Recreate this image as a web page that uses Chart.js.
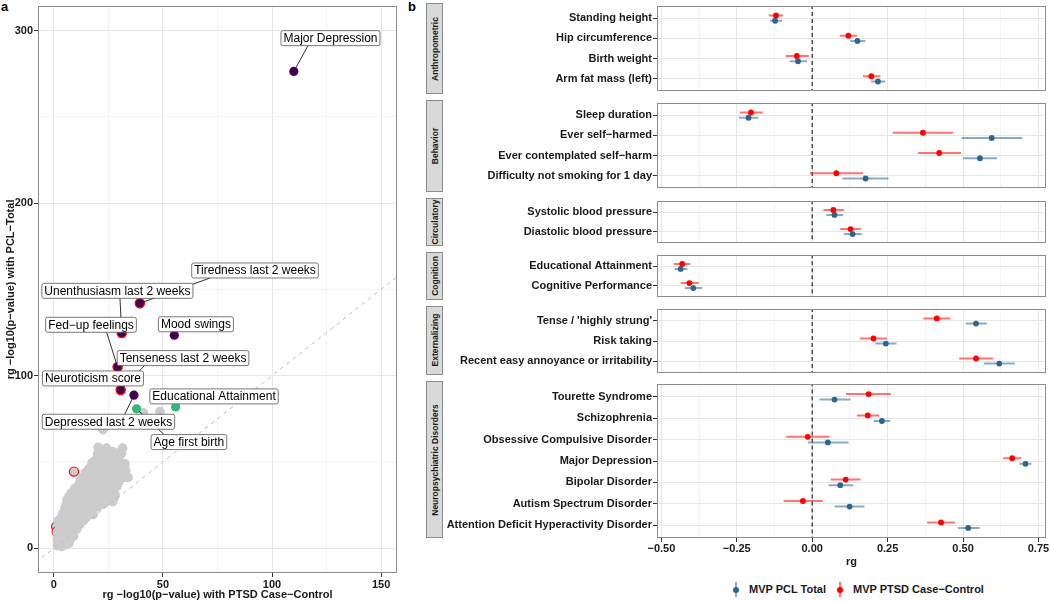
<!DOCTYPE html>
<html>
<head>
<meta charset="utf-8">
<script src="https://cdn.jsdelivr.net/npm/chart.js@4/dist/chart.umd.min.js"></script>
<style>
  body { margin: 0; background: #fff; font-family: "Liberation Sans", Arial, sans-serif; }
  #wrap { position: relative; width: 1050px; height: 602px; overflow: hidden; }
  canvas { position: absolute; }
  .tag { position: absolute; top: -1px; font-size: 13px; font-weight: bold; color: #000; }
  .strip { position: absolute; left: 426px; width: 15px; background: #d9d9d9; border: 1px solid #8c8c8c; }
  .strip span { position: absolute; left: 50%; top: 50%; transform: translate(-50%, -50%) rotate(-90deg);
                white-space: nowrap; font-size: 8.5px; font-weight: bold; color: #1a1a1a; }
  .key { position: absolute; top: 582px; width: 12px; height: 15px; }
  .key i { position: absolute; left: 5px; top: 0; width: 1.6px; height: 15px; }
  .key b { position: absolute; left: 2.8px; top: 4.7px; width: 6px; height: 6px; border-radius: 50%; }
  .keytxt { position: absolute; top: 582px; font-size: 11px; font-weight: bold; line-height: 15px; color: #1a1a1a; }
</style>
</head>
<body>
<div id="wrap">
  <div class="tag" style="left:1px">a</div>
  <div class="tag" style="left:408px">b</div>
  <canvas id="scatter" width="410" height="602" style="left:0;top:0"></canvas>
</div>
<script>
// ---------- panel a: labelled traits ----------
const namedTraits = ['Major Depression', 'Tiredness last 2 weeks', 'Unenthusiasm last 2 weeks', 'Mood swings',
  'Fed\u2212up feelings', 'Tenseness last 2 weeks', 'Neuroticism score', 'Depressed last 2 weeks',
  'Age first birth', 'Educational Attainment'];
const namedCC  = [110, 39.4, 31.1, 55.2, 29.2, 30.6, 23.4, 36.7, 37.9, 55.8];
const namedPCL = [276.4, 142, 124.8, 123.5, 105, 91.7, 98, 88.7, 80.8, 81.9];
const namedGroup = ['psych', 'psych', 'psych', 'psych', 'psych', 'psych', 'psych', 'psych', 'other', 'other'];
const namedSig = [false, true, true, false, true, true, true, false, false, false];
// where each label box sits (data units)
const labelAtCC  = [126.8, 92.2, 29.1, 65.1, 17, 59.2, 17.9, 25, 61.9, 73.4];
const labelAtPCL = [295.7, 161, 149.2, 129.8, 129.5, 110.2, 98.4, 73.3, 61.5, 88];

// unlabelled traits
const otherCC = [1.5, 3.5, 5.5, 7, 1.5, 3.5, 5.5, 8, 1.5, 3.5, 6, 9, 2.5, 4, 7, 10, 12,
  3.5, 6, 9, 12, 15, 5, 8, 11, 14, 17, 20, 6, 9, 12, 15, 18, 21, 24, 27,
  8, 11, 14, 17, 20, 23, 26, 28, 11, 14, 17, 20, 23, 26, 29,
  13, 16, 19, 22, 25, 28, 32, 16, 19, 22, 25, 28, 31, 19, 22, 25, 28, 30,
  21, 24, 27, 31.5, 20.3, 22.5, 41, 48.6, 34, 32.6,
  2.5, 4.5, 6.5, 2.5, 4.5, 7, 9, 2.5, 5, 8, 10.5, 2, 5, 7.5, 10.5, 13.5,
  4, 6.5, 9.5, 12.5, 15.5, 18, 5.5, 7.5, 10.5, 13.5, 16.5, 19.5, 22.5,
  7, 10, 13, 16, 19, 22, 25, 27.5, 9.5, 12.5, 15.5, 18.5, 21.5, 24.5, 27.5,
  12, 15, 18, 21, 24, 27, 30, 14.5, 17.5, 20.5, 23.5, 26.5, 29.5, 33,
  17.5, 20.5, 23.5, 26.5, 29.5, 20, 23, 26, 29, 31];
const otherPCL = [1.5, 1, 2, 3, 5, 5, 6, 6, 9, 9.5, 10, 10, 13, 14, 13, 13, 14,
  18, 17, 17, 18, 18, 23, 22, 22, 21, 22, 24, 28, 27, 27, 26, 27, 28, 27, 27,
  32, 32, 31, 32, 32, 31, 32, 31, 36, 37, 37, 37, 36, 37, 36,
  41, 42, 42, 41, 42, 42, 41, 46, 47, 46, 47, 47, 48, 51, 52, 52, 52, 53,
  56, 58, 56, 58, 58.5, 68.7, 78.5, 79.2, 41, 48.9,
  3.5, 3.5, 4, 7.5, 7.5, 8, 7, 11, 11, 11, 11, 16, 15.5, 15.5, 15.5, 16,
  20, 20, 19.5, 20, 20, 19.5, 25, 25, 24.5, 24, 24.5, 25.5, 25.5,
  30, 29.5, 29, 29.5, 29.5, 29.5, 29.5, 29, 34.5, 34, 34.5, 34.5, 34, 34.5, 34,
  39, 39.5, 39.5, 39, 39.5, 39.5, 39, 44, 44.5, 44, 44.5, 44.5, 44.5, 45,
  49.5, 49.5, 49.5, 49.5, 50, 54.5, 55, 54, 55, 55];
const ringTopCC = [9.2], ringTopPCL = [44.4];
const ringLowCC = [1.0, 1.3], ringLowPCL = [12.5, 9.5];

// ---------- panel b: genetic correlations ----------
const facetNames = ['Anthropometric', 'Behavior', 'Circulatory', 'Cognition', 'Externalizing', 'Neuropsychiatric Disorders'];
const traits = ['Standing height', 'Hip circumference', 'Birth weight', 'Arm fat mass (left)',
  'Sleep duration', 'Ever self\u2212harmed', 'Ever contemplated self\u2212harm', 'Difficulty not smoking for 1 day',
  'Systolic blood pressure', 'Diastolic blood pressure',
  'Educational Attainment', 'Cognitive Performance',
  "Tense / 'highly strung'", 'Risk taking', 'Recent easy annoyance or irritability',
  'Tourette Syndrome', 'Schizophrenia', 'Obsessive Compulsive Disorder', 'Major Depression',
  'Bipolar Disorder', 'Autism Spectrum Disorder', 'Attention Deficit Hyperactivity Disorder'];
const traitFacet = [0, 0, 0, 0, 1, 1, 1, 1, 2, 2, 3, 3, 4, 4, 4, 5, 5, 5, 5, 5, 5, 5];
const pclRg  = [-0.123, 0.150, -0.047, 0.218, -0.211, 0.595, 0.556, 0.177, 0.074, 0.134, -0.436, -0.394,
  0.543, 0.244, 0.620, 0.074, 0.231, 0.052, 0.707, 0.093, 0.124, 0.517];
const pclLo  = [-0.140, 0.126, -0.075, 0.195, -0.243, 0.495, 0.500, 0.100, 0.047, 0.105, -0.456, -0.422,
  0.509, 0.209, 0.569, 0.024, 0.204, -0.014, 0.687, 0.054, 0.074, 0.483];
const pclHi  = [-0.100, 0.176, -0.017, 0.242, -0.179, 0.696, 0.613, 0.253, 0.103, 0.164, -0.414, -0.365,
  0.579, 0.280, 0.672, 0.127, 0.259, 0.120, 0.727, 0.136, 0.173, 0.555];
const ptsdRg = [-0.120, 0.120, -0.051, 0.196, -0.203, 0.367, 0.421, 0.080, 0.070, 0.127, -0.431, -0.407,
  0.413, 0.203, 0.543, 0.187, 0.184, -0.015, 0.663, 0.111, -0.031, 0.427];
const ptsdLo = [-0.144, 0.091, -0.088, 0.168, -0.240, 0.267, 0.351, -0.008, 0.037, 0.093, -0.459, -0.436,
  0.369, 0.158, 0.487, 0.112, 0.148, -0.086, 0.633, 0.061, -0.095, 0.381];
const ptsdHi = [-0.096, 0.149, -0.011, 0.226, -0.164, 0.467, 0.493, 0.168, 0.105, 0.161, -0.404, -0.376,
  0.458, 0.248, 0.600, 0.261, 0.222, 0.057, 0.693, 0.160, 0.035, 0.473];
const rgTicks = [-0.5, -0.375, -0.25, -0.125, 0, 0.125, 0.25, 0.375, 0.5, 0.625, 0.75];

const FONT = '"Liberation Sans", Arial, sans-serif';
Chart.defaults.font.family = FONT;
Chart.defaults.color = '#1a1a1a';
const bold11 = { family: FONT, size: 11, weight: 'bold' };
const PURPLE = '#440154', GREEN = '#35b779', GREY = '#cccccc';
const RED = '#ff0000', BLUE = '#2c6690';

const crisp = v => Math.round(v) + 0.5;
const panelBox = {
  id: 'panelBox',
  afterDatasetsDraw(chart) {
    const a = chart.chartArea, ctx = chart.ctx;
    ctx.save();
    ctx.strokeStyle = '#8c8c8c';
    ctx.lineWidth = 1;
    const l = crisp(a.left), t = crisp(a.top), r = crisp(a.right) - 1, b = crisp(a.bottom) - 1;
    ctx.strokeRect(l, t, r - l, b - t);
    ctx.restore();
  }
};

// ggrepel-like labels: segments first, then the boxes on top
const repelLabels = {
  id: 'repelLabels',
  afterDatasetsDraw(chart) {
    const { ctx, scales: { x, y } } = chart;
    ctx.save();
    ctx.font = '12px ' + FONT;
    const boxes = namedTraits.map((t, i) => {
      const cx = x.getPixelForValue(labelAtCC[i]), cy = y.getPixelForValue(labelAtPCL[i]);
      const w = ctx.measureText(t).width + 5, h = 15;
      return { t, cx, cy, w, h, l: cx - w / 2, r: cx + w / 2, tp: cy - h / 2, b: cy + h / 2,
               px: x.getPixelForValue(namedCC[i]), py: y.getPixelForValue(namedPCL[i]) };
    });
    ctx.strokeStyle = '#1a1a1a';
    ctx.lineWidth = 0.9;
    boxes.forEach(b => {
      const nx = Math.min(Math.max(b.px, b.l), b.r), ny = Math.min(Math.max(b.py, b.tp), b.b);
      if (Math.hypot(b.px - nx, b.py - ny) < 7) return;
      const dx = b.px - b.cx, dy = b.py - b.cy;
      const k = Math.min((b.w / 2) / Math.abs(dx || 1e-9), (b.h / 2) / Math.abs(dy || 1e-9));
      const sx = (nx + b.cx + dx * k) / 2, sy = (ny + b.cy + dy * k) / 2;
      const len = Math.hypot(b.px - sx, b.py - sy);
      const ex = b.px - (b.px - sx) / len * 3.5, ey = b.py - (b.py - sy) / len * 3.5;
      ctx.beginPath(); ctx.moveTo(sx, sy); ctx.lineTo(ex, ey); ctx.stroke();
    });
    boxes.forEach(b => {
      ctx.beginPath();
      if (ctx.roundRect) ctx.roundRect(b.l, b.tp, b.w, b.h, 2); else ctx.rect(b.l, b.tp, b.w, b.h);
      ctx.fillStyle = '#fff'; ctx.fill();
      ctx.strokeStyle = '#555'; ctx.lineWidth = 0.8; ctx.stroke();
      ctx.fillStyle = '#000'; ctx.textAlign = 'center'; ctx.textBaseline = 'middle';
      ctx.fillText(b.t, b.cx, b.cy + 0.5);
    });
    ctx.restore();
  }
};

const zip = (xs, ys) => xs.map((v, i) => ({ x: v, y: ys[i] }));
const gridScript = (majorStep) => ({
  color: c => (c.tick && c.tick.value % majorStep === 0) ? '#e6e6e6' : '#f3f3f3',
  tickColor: c => (c.tick && c.tick.value % majorStep === 0) ? '#333' : 'rgba(0,0,0,0)',
  tickLength: 4,
  lineWidth: 1
});

new Chart(document.getElementById('scatter'), {
  type: 'scatter',
  data: {
    datasets: [
      { data: zip(namedCC, namedPCL), pointRadius: 4.6,
        pointBackgroundColor: namedGroup.map(g => g === 'psych' ? PURPLE : GREEN),
        pointBorderColor: namedSig.map(s => s ? RED : 'rgba(0,0,0,0)'),
        pointBorderWidth: namedSig.map(s => s ? 1.3 : 0) },
      { data: [{ x: -20, y: -20 }, { x: 170, y: 170 }], showLine: true, pointRadius: 0,
        borderColor: '#bdbdbd', borderWidth: 1, borderDash: [4, 4] },
      { data: zip(ringTopCC, ringTopPCL), pointRadius: 4.6, pointBackgroundColor: GREY,
        pointBorderColor: RED, pointBorderWidth: 1.2 },
      { data: zip(otherCC, otherPCL), pointRadius: 4.8, pointBackgroundColor: GREY, pointBorderWidth: 0 },
      { data: zip(ringLowCC, ringLowPCL), pointRadius: 4.6, pointBackgroundColor: GREY,
        pointBorderColor: RED, pointBorderWidth: 1.2 }
    ]
  },
  options: {
    responsive: false, animation: false, events: [],
    layout: { padding: { left: 0, top: 3, right: 13, bottom: 0 } },
    plugins: { legend: { display: false }, tooltip: { enabled: false } },
    scales: {
      x: {
        type: 'linear', min: -7.3, max: 157.3,
        afterBuildTicks: s => { s.ticks = [0, 25, 50, 75, 100, 125, 150].map(v => ({ value: v })); },
        afterFit: s => { s.height = 29; s.paddingLeft = 0; s.paddingRight = 0; },
        ticks: { callback: v => v % 50 === 0 ? String(v) : '', font: bold11, padding: 1, maxRotation: 0, autoSkip: false },
        grid: gridScript(50),
        border: { display: false },
        title: { display: true, text: 'rg \u2212log10(p\u2212value) with PTSD Case\u2212Control', font: bold11, padding: 0 }
      },
      y: {
        type: 'linear', min: -14.4, max: 314.4,
        afterBuildTicks: s => { s.ticks = [0, 50, 100, 150, 200, 250, 300].map(v => ({ value: v })); },
        afterFit: s => { s.width = 38; s.paddingTop = 0; s.paddingBottom = 0; },
        ticks: { callback: v => v % 100 === 0 ? String(v) : '', font: bold11, padding: 1, autoSkip: false },
        grid: gridScript(100),
        border: { display: false },
        title: { display: true, text: 'rg \u2212log10(p\u2212value) with PCL\u2212Total', font: bold11, padding: { top: 4, bottom: 0 } }
      }
    }
  },
  plugins: [panelBox, repelLabels]
});

// ---------- panel b: one chart per facet ----------
const wrap = document.getElementById('wrap');
const unit = 21.77, gap = 6, dodge = 0.13;
const fmtRg = v => (v < 0 ? '\u2212' : '') + Math.abs(v).toFixed(2);
const isMajorRg = v => Math.abs(v * 4 - Math.round(v * 4)) < 1e-9;
let panelTop = 3;

facetNames.forEach((fname, f) => {
  const idx = traits.map((t, i) => i).filter(i => traitFacet[i] === f);
  const names = idx.map(i => traits[i]);
  const n = names.length;
  const h = (n - 1 + 1.2) * unit;
  const last = f === facetNames.length - 1;

  const strip = document.createElement('div');
  strip.className = 'strip';
  strip.style.top = panelTop + 'px';
  strip.style.height = (h - 2) + 'px';
  strip.innerHTML = '<span>' + fname + '</span>';
  wrap.appendChild(strip);

  const cv = document.createElement('canvas');
  cv.width = 606;
  cv.height = Math.round(h + 2 + (last ? 30 : 0));
  cv.style.left = '444px';
  cv.style.top = (panelTop - 1) + 'px';
  wrap.appendChild(cv);

  const ci = (lo, hi, off) => idx.flatMap((i, k) => [{ x: lo[i], y: k + off }, { x: hi[i], y: k + off }, { x: NaN, y: NaN }]);
  new Chart(cv, {
    type: 'scatter',
    data: {
      datasets: [
        { data: idx.map((i, k) => ({ x: ptsdRg[i], y: k - dodge })), pointRadius: 2.9, pointBackgroundColor: RED, pointBorderWidth: 0 },
        { data: idx.map((i, k) => ({ x: pclRg[i], y: k + dodge })), pointRadius: 2.9, pointBackgroundColor: BLUE, pointBorderWidth: 0 },
        { data: ci(ptsdLo, ptsdHi, -dodge), showLine: true, pointRadius: 0, borderColor: 'rgba(255,0,0,0.55)', borderWidth: 2 },
        { data: ci(pclLo, pclHi, dodge), showLine: true, pointRadius: 0, borderColor: 'rgba(44,102,144,0.55)', borderWidth: 2 },
        { data: [{ x: 0, y: -1 }, { x: 0, y: n }], showLine: true, pointRadius: 0, borderColor: '#444', borderWidth: 1.4, borderDash: [4, 3] }
      ]
    },
    options: {
      responsive: false, animation: false, events: [],
      layout: { padding: { left: 0, top: 1, right: 2, bottom: last ? 0 : 1 } },
      plugins: { legend: { display: false }, tooltip: { enabled: false } },
      scales: {
        x: {
          type: 'linear', min: -0.5145, max: 0.775,
          afterBuildTicks: s => { s.ticks = rgTicks.map(v => ({ value: v })); },
          afterFit: s => { s.height = last ? 31 : 0; s.paddingLeft = 0; s.paddingRight = 0; },
          ticks: { display: last, callback: v => isMajorRg(v) ? fmtRg(v) : '', font: bold11, padding: 0, maxRotation: 0, autoSkip: false },
          grid: {
            color: c => (c.tick && isMajorRg(c.tick.value)) ? '#e6e6e6' : '#f3f3f3',
            tickColor: c => (c.tick && isMajorRg(c.tick.value)) ? '#333' : 'rgba(0,0,0,0)',
            drawTicks: last, tickLength: 4
          },
          border: { display: false },
          title: { display: last, text: 'rg', font: bold11, padding: 0 }
        },
        y: {
          type: 'linear', reverse: true, min: -0.6, max: n - 0.4,
          afterBuildTicks: s => { s.ticks = names.map((t, k) => ({ value: k })); },
          afterFit: s => { s.width = 213; s.paddingTop = 0; s.paddingBottom = 0; },
          ticks: { callback: v => names[v], font: bold11, padding: 1, autoSkip: false },
          grid: { color: '#e6e6e6', tickColor: '#333', tickLength: 4 },
          border: { display: false }
        }
      }
    },
    plugins: [panelBox]
  });
  panelTop += h + gap;
});

// legend of panel b
[[736, BLUE, 'rgba(44,102,144,0.55)', 'MVP PCL Total', 749],
 [840, RED, 'rgba(255,0,0,0.55)', 'MVP PTSD Case\u2212Control', 853]].forEach(([x, c, lc, txt, tx]) => {
  const k = document.createElement('div');
  k.className = 'key';
  k.style.left = (x - 6) + 'px';
  k.innerHTML = '<i style="background:' + lc + '"></i><b style="background:' + c + '"></b>';
  wrap.appendChild(k);
  const t = document.createElement('div');
  t.className = 'keytxt';
  t.style.left = tx + 'px';
  t.textContent = txt;
  wrap.appendChild(t);
});
</script>
</body>
</html>
